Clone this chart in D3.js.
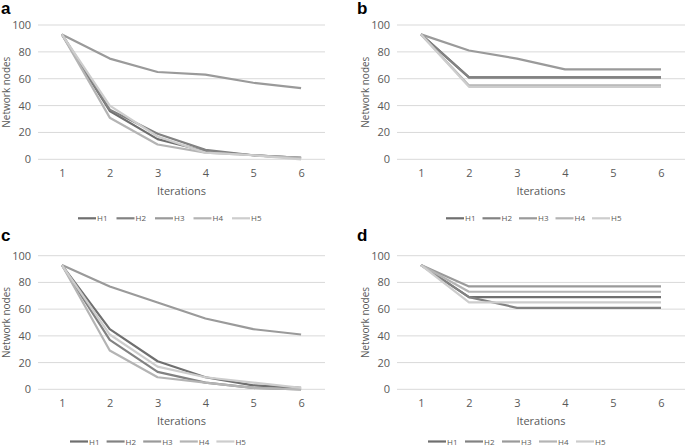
<!DOCTYPE html>
<html><head><meta charset="utf-8">
<script src="https://cdn.jsdelivr.net/npm/d3@7"></script>
<style>body{margin:0;background:#fff}svg{display:block}text{font-family:"Open Sans","Noto Sans",sans-serif}</style>
</head><body>
<svg id="c" width="685" height="446"></svg>
<script>
const iterations = [1, 2, 3, 4, 5, 6];
const seriesNames = ["H1", "H2", "H3", "H4", "H5"];
const yTicks = [0, 20, 40, 60, 80, 100];
const panelLetters = ["a", "b", "c", "d"];

const panelA = [
  [93, 36, 15, 6, 3, 1],
  [93, 37, 19, 7, 3, 1],
  [93, 75, 65, 63, 57, 53],
  [93, 31, 11, 5, 3, 1],
  [93, 40, 17, 5, 3, 0]
];
const panelB = [
  [93, 61, 61, 61, 61, 61],
  [93, 61, 61, 61, 61, 61],
  [93, 81, 75, 67, 67, 67],
  [93, 55, 55, 55, 55, 55],
  [93, 54, 54, 54, 54, 54]
];
const panelC = [
  [93, 45, 21, 9, 3, 1],
  [93, 37, 13, 5, 1, 0],
  [93, 77, 65, 53, 45, 41],
  [93, 29, 9, 5, 1, 0],
  [93, 41, 17, 9, 5, 1]
];
const panelD = [
  [93, 69, 69, 69, 69, 69],
  [93, 69, 61, 61, 61, 61],
  [93, 77, 77, 77, 77, 77],
  [93, 73, 73, 73, 73, 73],
  [93, 65, 65, 65, 65, 65]
];
const panelData = [panelA, panelB, panelC, panelD];

const colors = ["#6f6f6f", "#828282", "#9a9a9a", "#b4b4b4", "#cdcdcd"];

const layouts = [
  {x0: 38, x1: 325, yTop: 25, yBot: 159.3, letterX: 1, letterY: 14, legX: 78, legY: 218.3, legStep: 38.5},
  {x0: 397, x1: 685, yTop: 25, yBot: 159.3, letterX: 357, letterY: 14, legX: 446, legY: 218.3, legStep: 36.5},
  {x0: 38, x1: 325, yTop: 255.7, yBot: 389.3, letterX: 1, letterY: 241, legX: 70, legY: 441.5, legStep: 36.6},
  {x0: 397, x1: 685, yTop: 255.7, yBot: 389.3, letterX: 357, letterY: 241, legX: 428, legY: 441.5, legStep: 37}
];

const svg = d3.select("#c");

layouts.forEach((L, pi) => {
  const g = svg.append("g");
  const x = d3.scalePoint().domain(iterations).range([L.x0, L.x1]).padding(0.5);
  const y = d3.scaleLinear().domain([0, 100]).range([L.yBot, L.yTop]);

  // gridlines
  g.selectAll(".grid").data(yTicks).enter().append("line")
    .attr("x1", L.x0).attr("x2", L.x1)
    .attr("y1", d => y(d)).attr("y2", d => y(d))
    .attr("stroke", "#d9d9d9").attr("stroke-width", 1);

  // y axis labels
  const yAxis = d3.axisLeft(y).tickValues(yTicks).tickSize(0).tickPadding(7);
  const ya = g.append("g").attr("transform", `translate(${L.x0},0)`).call(yAxis);
  ya.select(".domain").remove();
  ya.selectAll("text").attr("fill", "#595959").style("font-size", "11px")
    .style("font-family", '"Open Sans","Noto Sans",sans-serif');

  // x axis labels
  const xAxis = d3.axisBottom(x).tickSize(0).tickPadding(10);
  const xa = g.append("g").attr("transform", `translate(0,${L.yBot})`).call(xAxis);
  xa.select(".domain").remove();
  xa.selectAll("text").attr("fill", "#595959").style("font-size", "11px")
    .style("font-family", '"Open Sans","Noto Sans",sans-serif');

  // axis titles
  g.append("text").attr("x", (L.x0 + L.x1) / 2).attr("y", L.yBot + 36)
    .attr("text-anchor", "middle").attr("fill", "#595959").style("font-size", "11px")
    .text("Iterations");
  g.append("text")
    .attr("transform", `translate(${L.x0 - 28.5},${(L.yTop + L.yBot) / 2}) rotate(-90)`)
    .attr("text-anchor", "middle").attr("fill", "#595959").style("font-size", "10px")
    .text("Network nodes");

  // letter
  g.append("text").attr("x", L.letterX).attr("y", L.letterY)
    .attr("fill", "#000").style("font-size", "17px").style("font-weight", "bold")
    .style("font-family", '"Liberation Sans",Arial,sans-serif')
    .text(panelLetters[pi]);

  // lines
  const line = d3.line().x((d, i) => x(iterations[i])).y(d => y(d));
  g.selectAll(".series").data(panelData[pi]).enter().append("path")
    .attr("d", line).attr("fill", "none")
    .attr("stroke", (d, i) => colors[i]).attr("stroke-width", 2.2)
    .attr("stroke-linejoin", "round");

  // legend
  const lg = g.selectAll(".leg").data(seriesNames).enter().append("g")
    .attr("transform", (d, i) => `translate(${L.legX + i * L.legStep},${L.legY})`);
  lg.append("line").attr("x1", 0).attr("x2", 18).attr("y1", 0).attr("y2", 0)
    .attr("stroke", (d, i) => colors[i]).attr("stroke-width", 2.2);
  lg.append("text").attr("x", 19).attr("y", 3).attr("fill", "#595959")
    .style("font-size", "8px").text(d => d);
});
</script>
</body></html>
